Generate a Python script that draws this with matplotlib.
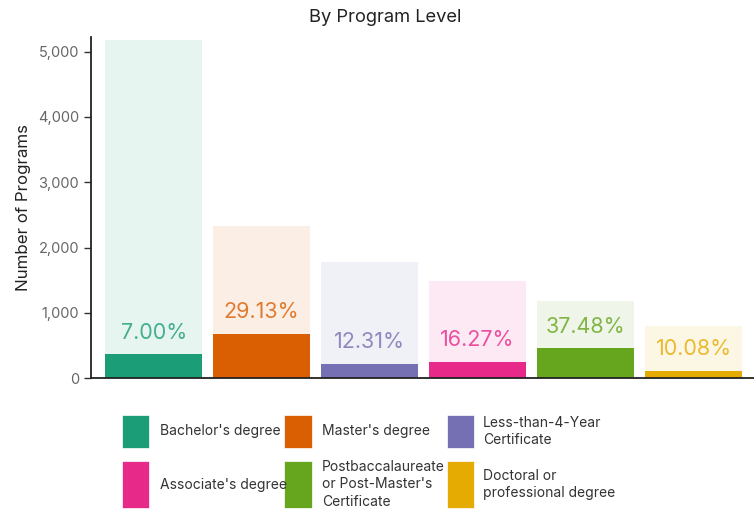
import matplotlib
matplotlib.use("Agg")
import matplotlib.pyplot as plt
from matplotlib.patches import Rectangle
from matplotlib.ticker import FuncFormatter

plt.rcParams['font.family'] = ['Inter', 'DejaVu Sans']

categories = ["Bachelor's degree", "Master's degree", "Less-than-4-Year\nCertificate",
              "Associate's degree", "Postbaccalaureate\nor Post-Master's\nCertificate",
              "Doctoral or\nprofessional degree"]
totals = [5180, 2330, 1780, 1493, 1185, 795]
subset = [363, 679, 225, 245, 455, 105]
pct_labels = ["7.00%", "29.13%", "12.31%", "16.27%", "37.48%", "10.08%"]
colors = ["#1b9e77", "#d95f02", "#7570b3", "#e7298a", "#66a61e", "#e6ab02"]
yticks = [0, 1000, 2000, 3000, 4000, 5000]

W, H = 754, 514
fig = plt.figure(figsize=(W/100, H/100), dpi=100)
ax = fig.add_axes([90.7/W, 1-378.2/H, 1-90.7/W, (378.2-37.3)/H])

x = list(range(len(categories)))
ax.bar(x, totals, width=0.9, color=colors, alpha=0.1, linewidth=0)
ax.bar(x, subset, width=0.9, color=colors, linewidth=0)
for xi, s, lab, c in zip(x, subset, pct_labels, colors):
    ax.annotate(lab, (xi, s), xytext=(0, 15.8), textcoords='offset points',
                ha='center', va='center', color=c, alpha=0.8, fontsize=15.5)

ax.set_xlim(-0.583, 5.56)
ax.set_ylim(0, 5220)
ax.set_yticks(yticks)
ax.yaxis.set_major_formatter(FuncFormatter(lambda v, p: f"{int(v):,}"))
ax.tick_params(axis='y', colors='#333333', labelcolor='#666666', labelsize=10.5,
               length=5, width=1)
ax.set_xticks([])
for s in ['top', 'right']:
    ax.spines[s].set_visible(False)
for s in ['left', 'bottom']:
    ax.spines[s].set_color('#222222')
    ax.spines[s].set_linewidth(1.3)
ax.set_ylabel("Number of Programs", fontsize=12.2, color='#222222', labelpad=5)

fig.text(385/W, 1-17/H, "By Program Level", ha='center', va='center',
         fontsize=13.2, color='#222222')

# legend
col_sw_x = [121.7, 284, 446.7]
col_tx_x = [160, 322, 482.7]
rows = [(415, 447.7), (460.7, 508.3)]
for i, (lab, c) in enumerate(zip(categories, colors)):
    r, col = divmod(i, 3)
    y0, y1 = rows[r]
    fig.patches.append(Rectangle((col_sw_x[col]/W, 1-y1/H), 27.5/W, (y1-y0)/H,
                                 transform=fig.transFigure, facecolor=c,
                                 edgecolor='white', linewidth=0.5))
    fig.text(col_tx_x[col]/W, 1-((y0+y1)/2)/H, lab, ha='left', va='center',
             fontsize=10, color='#333333', linespacing=1.3)

fig.savefig("out.png", dpi=100)
